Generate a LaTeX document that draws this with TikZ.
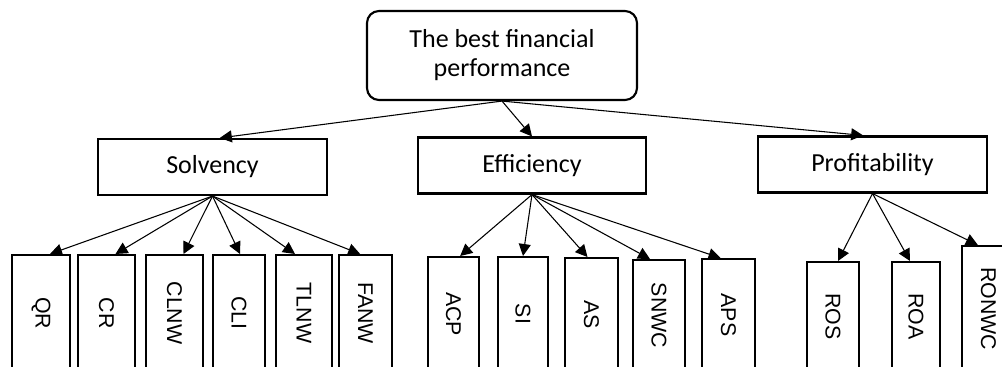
\documentclass[tikz,border=0pt]{standalone}
\usepackage{fontspec}
\setmainfont{Carlito}
\newfontfamily\leaffont{Liberation Sans}
\usetikzlibrary{arrows.meta}
\tikzset{
  topbox/.style={rectangle, draw, line width=1.6pt, rounded corners=9pt, minimum width=202.5pt, minimum height=66.75pt, align=center, font=\fontsize{19.5}{21.75}\selectfont},
  catbox/.style={rectangle, draw, line width=1.6pt, minimum width=171.5pt, minimum height=42pt, font=\fontsize{19.5}{23}\selectfont},
  leafbox/.style={rectangle, draw, line width=1.6pt, anchor=north, minimum width=41pt, minimum height=87pt, inner sep=0pt, font=\leaffont\fontsize{16}{19}\selectfont},
  arrow/.style={-{Triangle[length=9pt,width=9pt]}, line width=0.8pt},
}

\begin{document}
\begin{tikzpicture}[x=0.75pt, y=-0.75pt]
    \useasboundingbox (0,0) rectangle (1002,367);
    \clip (0,0) rectangle (1002,367);
    % top level
    \node[topbox] (best) at (502,55.5) {The best financial\\performance};
    % criteria
    \node[catbox] (solv) at (212.5,167) {Solvency};
    \node[catbox] (eff) at (532,165.5) {Efficiency};
    \node[catbox] (prof) at (872.5,164.5) {Profitability};
    \draw[arrow] (best.south) -- ([xshift=5.5pt]solv.north);
    \draw[arrow] (best.south) -- (eff.north);
    \draw[arrow] (best.south) -- ([xshift=-7pt]prof.north);
    % solvency ratios
    \node[leafbox, minimum width=43.5pt] (qr) at (41,254) {\rotatebox{-90}{QR}};
    \node[leafbox, minimum width=42.75pt] (cr) at (106.5,254) {\rotatebox{-90}{CR}};
    \node[leafbox, minimum width=42.75pt] (clnw) at (174.5,254) {\rotatebox{-90}{CLNW}};
    \node[leafbox, minimum width=39pt] (cli) at (239,254) {\rotatebox{-90}{CLI}};
    \node[leafbox, minimum width=42pt] (tlnw) at (304,254) {\rotatebox{-90}{TLNW}};
    \node[leafbox, minimum width=39.75pt] (fanw) at (365.5,254) {\rotatebox{-90}{FANW}};
    \draw[arrow] (solv.south) -- ([xshift=6.75pt]qr.north);
    \draw[arrow] (solv.south) -- ([xshift=6.75pt]cr.north);
    \draw[arrow] (solv.south) -- ([xshift=6.75pt]clnw.north);
    \draw[arrow] (solv.south) -- ([xshift=0.75pt]cli.north);
    \draw[arrow] (solv.south) -- ([xshift=-6.75pt]tlnw.north);
    \draw[arrow] (solv.south) -- ([xshift=-4pt]fanw.north);
    % efficiency ratios
    \node[leafbox, minimum width=38.25pt, minimum height=85.5pt] (acp) at (453.5,256) {\rotatebox{-90}{ACP}};
    \node[leafbox, minimum width=37.5pt, minimum height=85.5pt] (si) at (523,256) {\rotatebox{-90}{SI}};
    \node[leafbox, minimum width=39.75pt, minimum height=84.75pt] (asr) at (591.5,257) {\rotatebox{-90}{AS}};
    \node[leafbox, minimum width=39pt, minimum height=83.25pt] (snwc) at (659,259) {\rotatebox{-90}{SNWC}};
    \node[leafbox, minimum width=39.75pt, minimum height=84pt] (aps) at (728.5,258) {\rotatebox{-90}{APS}};
    \draw[arrow] (eff.south) -- ([xshift=5pt]acp.north);
    \draw[arrow] (eff.south) -- (si.north);
    \draw[arrow] (eff.south) -- ([xshift=-3pt]asr.north);
    \draw[arrow] (eff.south) -- ([xshift=-6.75pt]snwc.north);
    \draw[arrow] (eff.south) -- ([xshift=-6pt]aps.north);
    % profitability ratios
    \node[leafbox, minimum width=39pt, minimum height=81.75pt] (ros) at (833,261) {\rotatebox{-90}{ROS}};
    \node[leafbox, minimum width=36pt, minimum height=81.75pt] (roa) at (916,261) {\rotatebox{-90}{ROA}};
    \node[leafbox, minimum width=39.75pt, minimum height=93.75pt] (ronwc) at (988.5,245) {\rotatebox{-90}{RONWC}};
    \draw[arrow] (prof.south) -- ([xshift=3.75pt]ros.north);
    \draw[arrow] (prof.south) -- ([xshift=-4.5pt]roa.north);
    \draw[arrow] (prof.south) -- ([xshift=-8pt]ronwc.north);
\end{tikzpicture}
\end{document}
